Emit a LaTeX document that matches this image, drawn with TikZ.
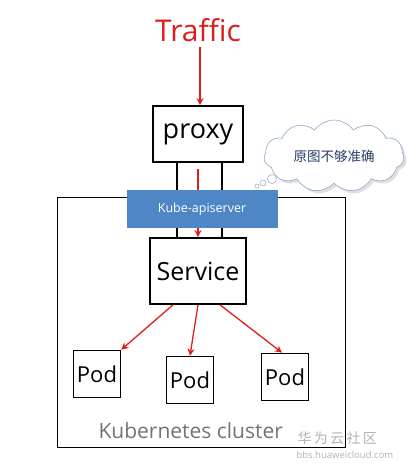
\documentclass[tikz,border=0pt]{standalone}
\usepackage{fontspec}
\setmainfont{Open Sans}
\newfontfamily\cjk{Noto Sans CJK SC}
\usetikzlibrary{shapes.symbols,arrows.meta,shadows}
\definecolor{tred}{RGB}{220,30,30}
\definecolor{apiblue}{RGB}{79,134,198}
\definecolor{cloudline}{RGB}{90,130,180}
\definecolor{cloudtext}{RGB}{40,60,100}
\tikzset{
  sketchbox/.style={draw=black,line width=1.6pt,fill=white,minimum width=#1},
  redarrow/.style={draw=tred,line width=1.3pt,-{Stealth[length=7pt,width=7pt]}},
  podbox/.style={draw=black,line width=1.6pt,fill=white,minimum width=47pt,minimum height=47pt,font=\fontsize{22}{24}\selectfont,inner sep=0pt},
}
\begin{document}
\begin{tikzpicture}[x=1pt,y=-1pt]
\useasboundingbox (0,0) rectangle (415,469);
% cluster
\node[draw=black,line width=1.4pt,minimum width=288pt,minimum height=250pt,anchor=north west,inner sep=0pt] (cluster) at (57,197) {};
% Traffic
\node[text=tred,font=\fontsize{30}{32}\selectfont] (traffic) at (198,30) {Traffic};
% proxy
\node[sketchbox=90pt,minimum height=56pt,font=\fontsize{27}{30}\selectfont,inner sep=0pt] (proxy) at (198,134) {proxy};
% service
\node[sketchbox=96pt,minimum height=66pt,font=\fontsize{25}{28}\selectfont,inner sep=0pt] (service) at (198,271) {Service};
% connecting lines
\draw[line width=1.4pt] ([xshift=-21pt]proxy.south) -- ([xshift=-21pt]service.north);
\draw[line width=1.4pt] ([xshift=24pt]proxy.south) -- ([xshift=24pt]service.north);
\coordinate (pin) at ([yshift=-6pt]proxy.south);
\draw[redarrow] (traffic.south) ++(2,2) coordinate (tin) -- (proxy.north -| tin);
\draw[redarrow] (pin) -- (service.north);
% apiserver
\node[fill=apiblue,minimum width=151pt,minimum height=38pt,text=white,font=\fontsize{12.5}{14}\selectfont,inner sep=0pt] (api) at (202,209) {Kube-apiserver};
% pods
\node[podbox] (pod1) at (97,374) {Pod};
\node[podbox] (pod2) at (190,380) {Pod};
\node[podbox] (pod3) at (285,377) {Pod};
\draw[redarrow] ([xshift=-25pt]service.south) -- (pod1.north east);
\draw[redarrow] ([xshift=0pt]service.south) -- (pod2.north);
\draw[redarrow] ([xshift=22pt]service.south) -- ([xshift=-3pt]pod3.north);
% cluster label
\node[text=black!55,font=\fontsize{21}{23}\selectfont,anchor=west] (klabel) at (95,431) {Kubernetes cluster};
% cloud
\node[cloud,cloud puffs=11,cloud puff arc=110,aspect=2.1,draw=cloudline!70,line width=0.6pt,fill=white,drop shadow={opacity=0.25},minimum width=140pt,minimum height=72pt,font=\cjk\fontsize{13.5}{15}\selectfont,text=cloudtext,inner sep=0pt] (cloud) at (334,156) {原图不够准确};
\node[circle,draw=cloudline!70,line width=0.5pt,fill=white,minimum size=9pt,inner sep=0pt] (c1) at (272,179) {};
\node[circle,draw=cloudline!70,line width=0.5pt,fill=white,minimum size=6pt,inner sep=0pt] (c2) at (263,183) {};
\node[circle,draw=cloudline!70,line width=0.5pt,fill=white,minimum size=4pt,inner sep=0pt] (c3) at (257,186) {};
% watermark
\node[text=black!30,font=\cjk\fontsize{14}{16}\selectfont,anchor=west] (wm1) at (294,438) {华\,为\,云\,社\,区};
\node[text=black!30,font=\fontsize{9.5}{11}\selectfont,anchor=west] (wm2) at (293,455) {bbs.huaweicloud.com};
\end{tikzpicture}
\end{document}
